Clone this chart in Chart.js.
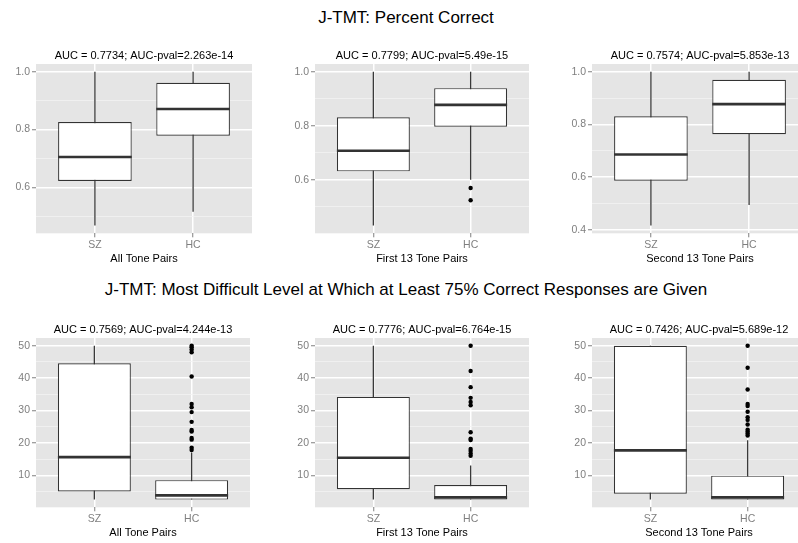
<!DOCTYPE html>
<html lang="en">
  <head>
    <meta charset="UTF-8" />
    <title>J-TMT boxplots</title>
    <script src="https://cdn.jsdelivr.net/npm/chart.js@4.4.1/dist/chart.umd.min.js"></script>
    <style>
      html,
      body {
        margin: 0;
        padding: 0;
        background: #fff;
      }
      body {
        position: relative;
        width: 798px;
        height: 543px;
        overflow: hidden;
        font-family: "Liberation Sans", Arial, sans-serif;
      }
      .main-title {
        position: absolute;
        left: 0;
        width: 812px;
        text-align: center;
        font-size: 17px;
        line-height: 20px;
        color: #000;
      }
      canvas {
        position: absolute;
      }
    </style>
  </head>
  <body>
    <div class="main-title" style="top: 8px">J-TMT: Percent Correct</div>
    <div class="main-title" style="top: 280px">
      J-TMT: Most Difficult Level at Which at Least 75% Correct Responses are Given
    </div>

    <canvas id="c0" width="254" height="224" style="left: 0; top: 44px"></canvas>
    <canvas id="c1" width="254" height="224" style="left: 279px; top: 44px"></canvas>
    <canvas id="c2" width="254" height="224" style="left: 556px; top: 44px"></canvas>
    <canvas id="c3" width="254" height="224" style="left: 0; top: 318px"></canvas>
    <canvas id="c4" width="254" height="224" style="left: 279px; top: 318px"></canvas>
    <canvas id="c5" width="254" height="224" style="left: 556px; top: 318px"></canvas>

    <script>
      const groups = ["SZ", "HC"];
      const xTitles = ["All Tone Pairs", "First 13 Tone Pairs", "Second 13 Tone Pairs"];

      // box stats: [min whisker, q1, median, q3, max whisker]
      const pctAllSZ = [0.468, 0.622, 0.705, 0.826, 1.0];
      const pctAllHC = [0.516, 0.779, 0.871, 0.962, 1.0];
      const pctFirstSZ = [0.43, 0.631, 0.707, 0.831, 1.0];
      const pctFirstHC = [0.6, 0.796, 0.877, 0.939, 1.0];
      const pctFirstHCOut = [0.569, 0.524];
      const pctSecondSZ = [0.416, 0.586, 0.686, 0.831, 1.0];
      const pctSecondHC = [0.494, 0.763, 0.877, 0.969, 1.0];

      const lvlAllSZ = [2.5, 5.0, 15.6, 44.6, 50];
      const lvlAllHC = [2.5, 2.5, 3.8, 8.5, 17];
      const lvlAllHCOut = [17.8, 18.5, 21, 21.5, 23.5, 24, 26.5, 29.5, 31, 32, 40.5, 48, 48.8, 49.5, 50];
      const lvlFirstSZ = [2.5, 5.7, 15.4, 34.2, 50];
      const lvlFirstHC = [2.5, 2.5, 3.2, 7.0, 13];
      const lvlFirstHCOut = [16.0, 16.7, 17.5, 18.1, 20.9, 21.3, 23.3, 31.6, 32.6, 33.9, 37.2, 42.2, 50];
      const lvlSecondSZ = [2.5, 4.3, 17.7, 50, 50];
      const lvlSecondHC = [2.5, 2.5, 3.2, 9.9, 20.8];
      const lvlSecondHCOut = [22.3, 22.9, 23.5, 24.1, 25.7, 27.1, 27.9, 29.6, 31.4, 32, 36.5, 43.2, 50];

      const aucTitles = [
        "AUC = 0.7734; AUC-pval=2.263e-14",
        "AUC = 0.7799; AUC-pval=5.49e-15",
        "AUC = 0.7574; AUC-pval=5.853e-13",
        "AUC = 0.7569; AUC-pval=4.244e-13",
        "AUC = 0.7776; AUC-pval=6.764e-15",
        "AUC = 0.7426; AUC-pval=5.689e-12",
      ];

      const pctTicks = [0.6, 0.8, 1.0];
      const pctTicksWide = [0.4, 0.6, 0.8, 1.0];
      const pctMinor = [0.5, 0.7, 0.9];
      const lvlTicks = [10, 20, 30, 40, 50];
      const lvlMinor = [5, 15, 25, 35, 45];

      const panels = [
        { sz: pctAllSZ, hc: pctAllHC, out: [], ticks: pctTicks, minor: pctMinor, digits: 1 },
        { sz: pctFirstSZ, hc: pctFirstHC, out: pctFirstHCOut, ticks: pctTicks, minor: pctMinor, digits: 1 },
        { sz: pctSecondSZ, hc: pctSecondHC, out: [], ticks: pctTicksWide, minor: pctMinor, digits: 1 },
        { sz: lvlAllSZ, hc: lvlAllHC, out: lvlAllHCOut, ticks: lvlTicks, minor: lvlMinor, digits: 0 },
        { sz: lvlFirstSZ, hc: lvlFirstHC, out: lvlFirstHCOut, ticks: lvlTicks, minor: lvlMinor, digits: 0 },
        { sz: lvlSecondSZ, hc: lvlSecondHC, out: lvlSecondHCOut, ticks: lvlTicks, minor: lvlMinor, digits: 0 },
      ];

      const BOX_WIDTH = 0.75; // in category units, like ggplot

      Chart.defaults.font.family = '"Liberation Sans", Arial, sans-serif';

      // grey panel behind the grid, ggplot style
      const panelBg = {
        id: "panelBg",
        beforeDraw(chart) {
          const { ctx, chartArea: a } = chart;
          ctx.save();
          ctx.fillStyle = "#e5e5e5";
          ctx.fillRect(a.left, a.top, a.width, a.height);
          ctx.restore();
        },
      };

      const isMinor = (c) => c.tick && c.tick.minor;

      function drawPanel(i) {
        const p = panels[i];
        const all = [...p.sz, ...p.hc, ...p.out];
        const lo = Math.min(...all);
        const hi = Math.max(...all);
        const pad = (hi - lo) * 0.05;
        const stats = [p.sz, p.hc];

        new Chart(document.getElementById("c" + i), {
          type: "bar",
          data: {
            datasets: [
              // outliers
              {
                type: "scatter",
                data: p.out.map((v) => ({ x: 2, y: v })),
                backgroundColor: "#000",
                pointRadius: 2.2,
                borderWidth: 0,
                order: 0,
              },
              // medians
              {
                type: "scatter",
                data: stats.map((s, k) => ({ x: k + 1, y: s[2] })),
                pointStyle: "line",
                pointRadius: (c) => {
                  const x = c.chart.scales.x;
                  return (x.getPixelForValue(BOX_WIDTH) - x.getPixelForValue(0)) / 2;
                },
                borderColor: "#333",
                borderWidth: 2.6,
                order: 1,
              },
              // boxes
              {
                data: stats.map((s, k) => ({ x: k + 1, y: [s[1], s[3]] })),
                backgroundColor: "#fff",
                borderColor: "#333",
                borderWidth: 1.2,
                borderSkipped: false,
                barPercentage: BOX_WIDTH,
                categoryPercentage: 1,
                grouped: false,
                order: 2,
              },
              // whiskers
              {
                data: stats.map((s, k) => ({ x: k + 1, y: [s[0], s[4]] })),
                backgroundColor: "#3a3a3a",
                barThickness: 1.3,
                inflateAmount: 0,
                grouped: false,
                order: 3,
              },
            ],
          },
          options: {
            responsive: false,
            animation: false,
            layout: { padding: { right: 2 } },
            plugins: {
              legend: { display: false },
              tooltip: { enabled: false },
              title: {
                display: true,
                text: aucTitles[i],
                fullSize: false,
                color: "#000",
                font: { size: 11, weight: "normal" },
                padding: { top: 5, bottom: 1.8 },
              },
            },
            scales: {
              x: {
                type: "linear",
                min: 0.4,
                max: 2.6,
                offset: false,
                afterBuildTicks: (a) => {
                  a.ticks = groups.map((g, k) => ({ value: k + 1 }));
                },
                ticks: {
                  callback: (v) => groups[Math.round(v) - 1],
                  color: "#7f7f7f",
                  font: { size: 10.5, lineHeight: 1 },
                  padding: 2.5,
                  autoSkip: false,
                  maxRotation: 0,
                },
                grid: {
                  offset: false,
                  color: "#fff",
                  lineWidth: 1.5,
                  tickColor: "#7f7f7f",
                  tickLength: 4,
                  tickWidth: 1,
                },
                border: { display: false },
                title: {
                  display: true,
                  text: xTitles[i % 3],
                  color: "#000",
                  font: { size: 11 },
                  padding: { top: 0, bottom: 2 },
                },
              },
              y: {
                min: lo - pad,
                max: hi + pad,
                afterBuildTicks: (a) => {
                  a.ticks = [
                    ...p.ticks.map((v) => ({ value: v })),
                    ...p.minor.filter((v) => v > lo - pad).map((v) => ({ value: v, minor: true })),
                  ].sort((m, n) => m.value - n.value);
                },
                afterFit: (s) => {
                  s.width = 36;
                },
                ticks: {
                  callback: (v, k, t) => (t[k].minor ? "" : v.toFixed(p.digits)),
                  color: "#7f7f7f",
                  font: { size: 10.5 },
                  padding: 2,
                  autoSkip: false,
                },
                grid: {
                  color: (c) => (isMinor(c) ? "#f2f2f2" : "#fff"),
                  lineWidth: (c) => (isMinor(c) ? 0.8 : 1.5),
                  tickColor: (c) => (isMinor(c) ? "rgba(0,0,0,0)" : "#7f7f7f"),
                  tickLength: 4,
                  tickWidth: 1,
                },
                border: { display: false },
              },
            },
          },
          plugins: [panelBg],
        });
      }

      panels.forEach((p, i) => drawPanel(i));
    </script>
  </body>
</html>
